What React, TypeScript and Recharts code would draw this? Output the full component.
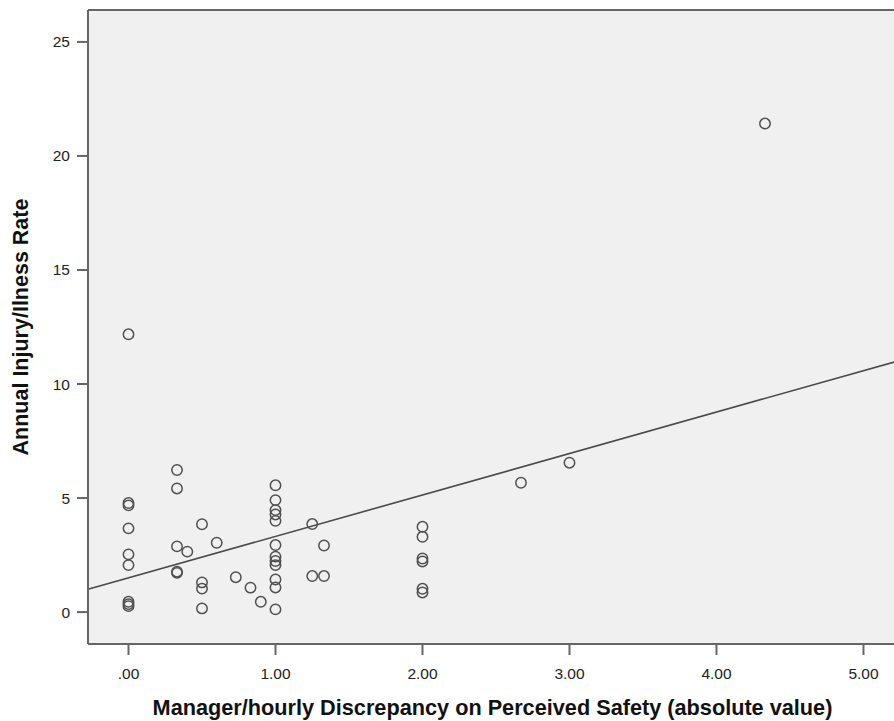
import { ScatterChart, Scatter, XAxis, YAxis, CartesianGrid, ReferenceLine } from 'recharts'

// discrepancy (absolute value) and annual injury/illness rate
const discrepancy = [
  0, 0, 0, 0, 0, 0, 0, 0, 0,
  0.33, 0.33, 0.33, 0.33, 0.33,
  0.4,
  0.5, 0.5, 0.5, 0.5,
  0.6, 0.73, 0.83, 0.9,
  1, 1, 1, 1, 1, 1, 1, 1, 1, 1, 1, 1,
  1.25, 1.25, 1.33, 1.33,
  2, 2, 2, 2, 2, 2,
  2.67, 3, 4.33,
]
const injuryRate = [
  12.18, 4.78, 4.68, 3.67, 2.53, 2.06, 0.45, 0.35, 0.26,
  6.23, 5.42, 2.88, 1.77, 1.72,
  2.65,
  3.85, 1.3, 1.03, 0.16,
  3.04, 1.53, 1.07, 0.45,
  5.56, 4.91, 4.47, 4.28, 4.0, 2.94, 2.43, 2.24, 2.06, 1.43, 1.08, 0.12,
  3.86, 1.58, 2.92, 1.58,
  3.74, 3.3, 2.35, 2.22, 1.02, 0.86,
  5.67, 6.55, 21.42,
]
// fit line end points (at the plot edges)
const fitLine = [
  { x: -0.2755, y: 1.0 },
  { x: 5.228, y: 11.0 },
]
const xTicks = [0, 1, 2, 3, 4, 5]
const yTicks = [0, 5, 10, 15, 20, 25]
const X_DOMAIN: [number, number] = [-0.2755, 5.228]
const Y_DOMAIN: [number, number] = [-1.4, 26.4]

const points = discrepancy.map((x, i) => ({ x, y: injuryRate[i] }))

const FONT = '"Liberation Sans", Arial, sans-serif'
const AXIS = '#666666'

function Ring(props: { cx?: number; cy?: number }) {
  const { cx, cy } = props
  if (cx == null || cy == null) return null
  return <circle cx={cx} cy={cy} r={5.2} fill="none" stroke="#505050" strokeWidth={1.5} />
}

export default function App() {
  return (
    <div style={{ position: 'absolute', left: 0, top: 0, width: 894, height: 721, overflow: 'hidden', background: '#fff' }}>
      <ScatterChart width={897} height={721} margin={{ top: 10, right: 0, bottom: 0, left: 0 }}>
        <CartesianGrid fill="#f0f0f0" horizontal={false} vertical={false} />
        <XAxis
          type="number"
          dataKey="x"
          domain={X_DOMAIN}
          allowDataOverflow
          ticks={xTicks}
          tickFormatter={(v: number) => (v === 0 ? '.00' : v.toFixed(2))}
          height={77}
          tickSize={11}
          tickMargin={13}
          axisLine={{ stroke: AXIS, strokeWidth: 2 }}
          tickLine={{ stroke: AXIS, strokeWidth: 2 }}
          tick={{ fill: '#222', fontSize: 15.5, fontFamily: FONT }}
          label={{
            value: 'Manager/hourly Discrepancy on Perceived Safety (absolute value)',
            position: 'insideBottom',
            offset: 6,
            style: { fill: '#111', fontSize: 21.7, fontWeight: 'bold', fontFamily: FONT },
          }}
        />
        <YAxis
          type="number"
          dataKey="y"
          domain={Y_DOMAIN}
          allowDataOverflow
          ticks={yTicks}
          width={88}
          tickSize={11}
          tickMargin={7}
          axisLine={{ stroke: AXIS, strokeWidth: 2 }}
          tickLine={{ stroke: AXIS, strokeWidth: 2 }}
          tick={{ fill: '#222', fontSize: 15.5, fontFamily: FONT }}
          label={{
            value: 'Annual Injury/Ilness Rate',
            angle: -90,
            position: 'insideLeft',
            offset: 20,
            style: { fill: '#111', fontSize: 21.5, fontWeight: 'bold', fontFamily: FONT, textAnchor: 'middle' },
          }}
        />
        <ReferenceLine y={Y_DOMAIN[1]} stroke={AXIS} strokeWidth={2} />
        <ReferenceLine segment={fitLine} stroke="#4a4a4a" strokeWidth={1.6} />
        <Scatter data={points} shape={<Ring />} isAnimationActive={false} />
      </ScatterChart>
    </div>
  )
}
